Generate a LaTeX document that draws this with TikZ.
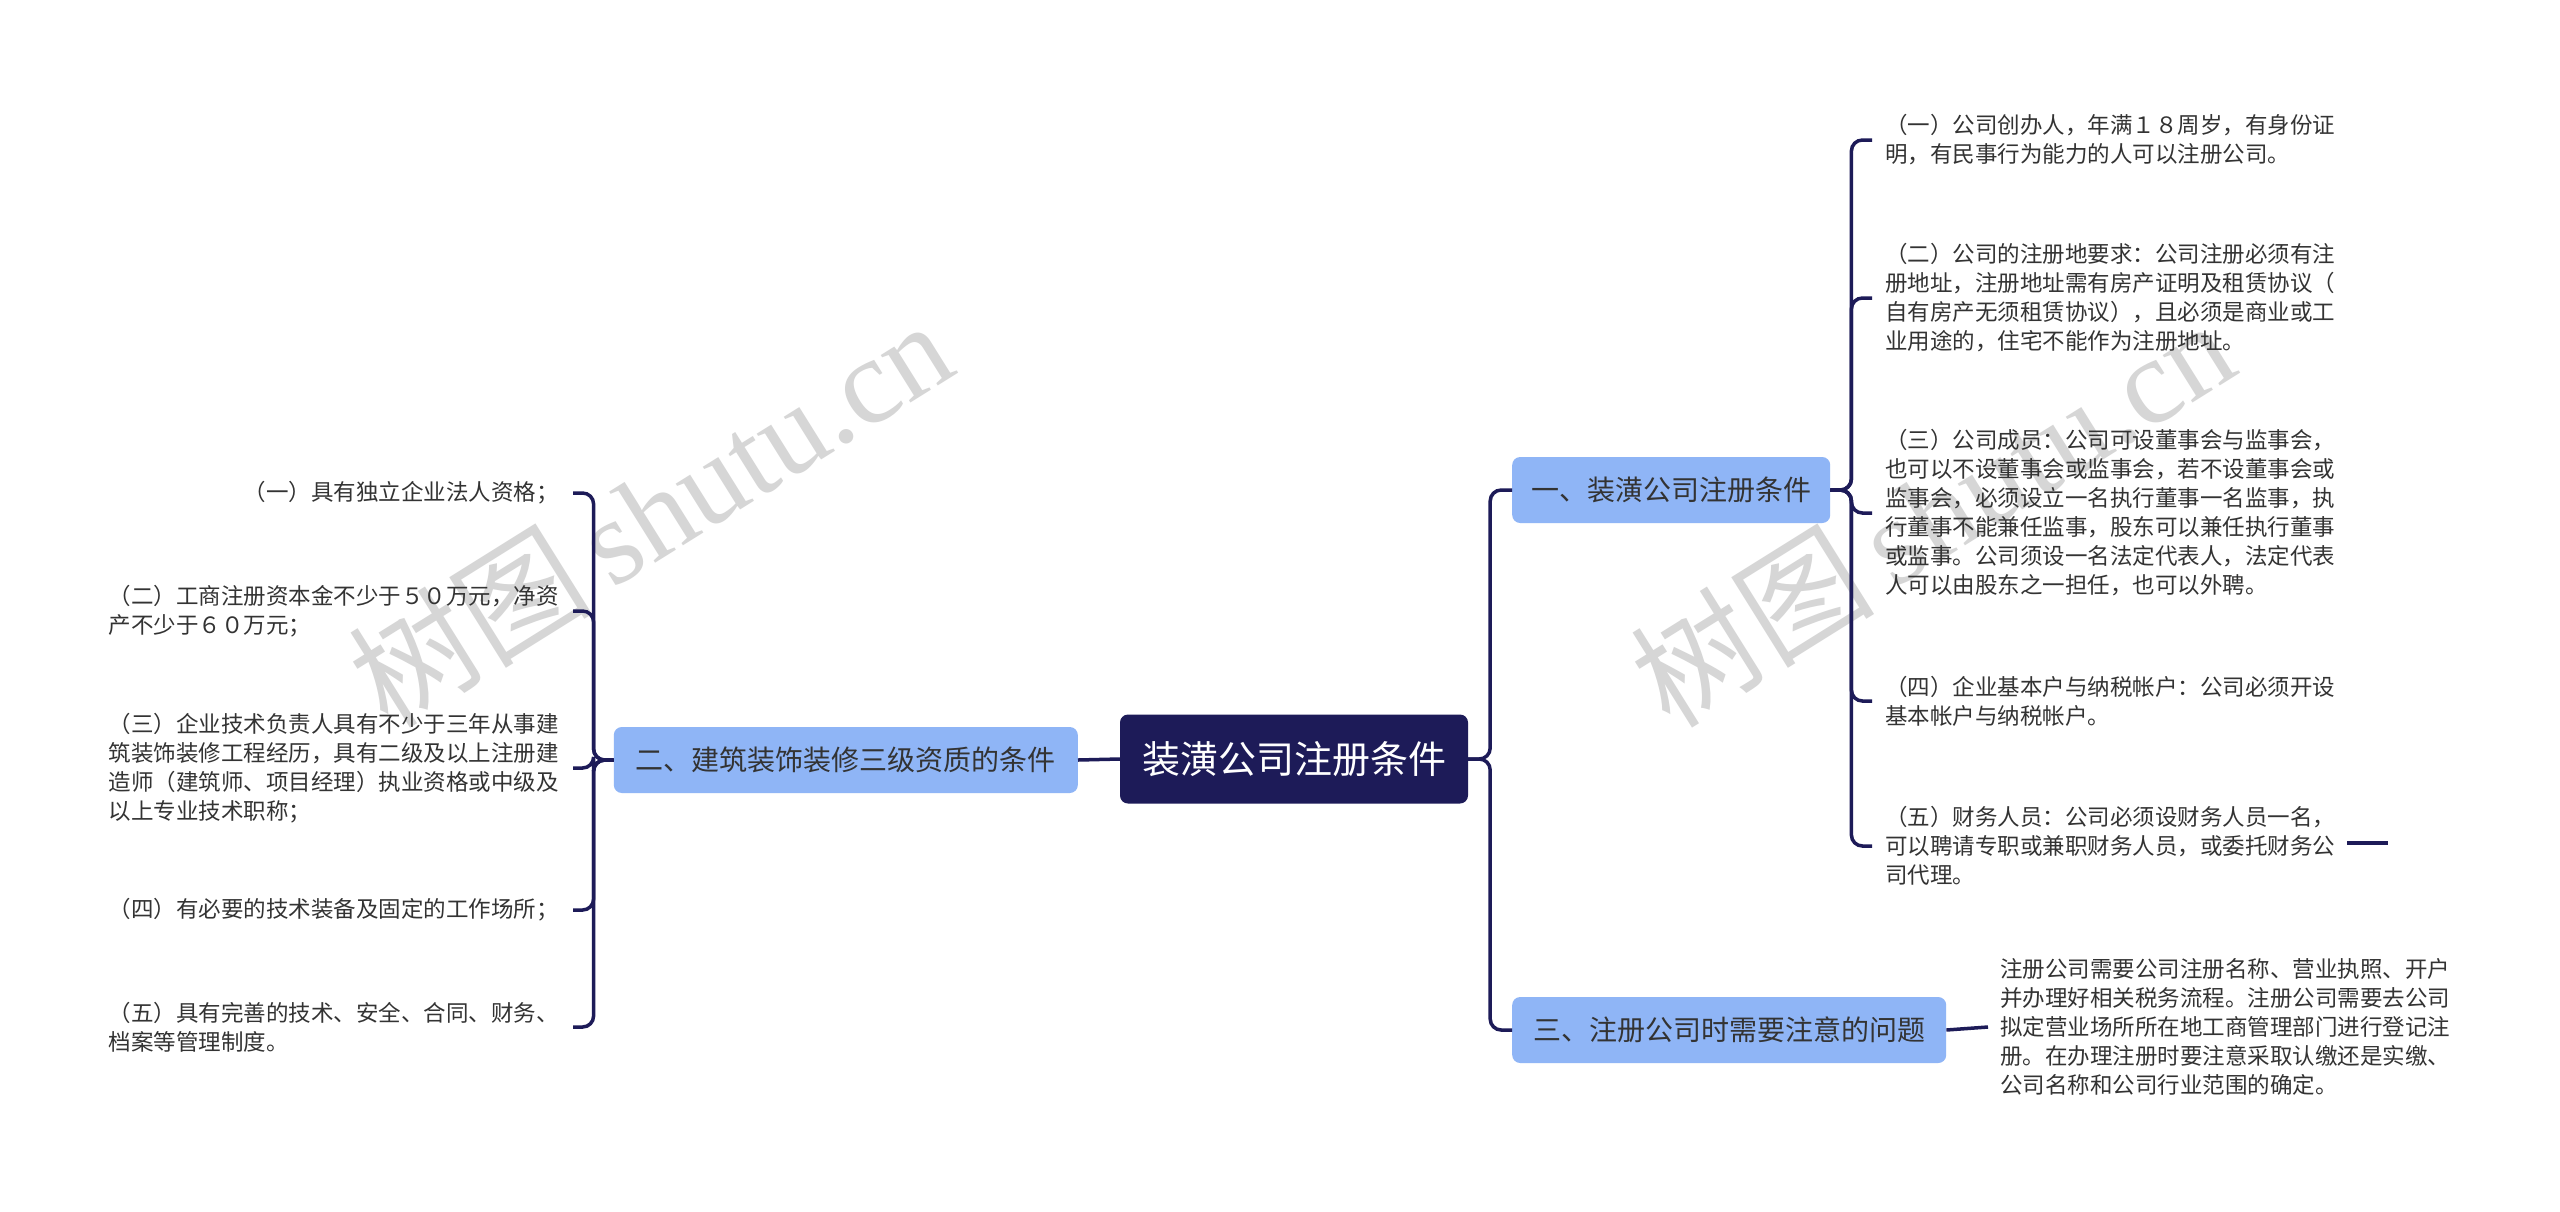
\documentclass[tikz,border=0pt]{standalone}
\usepackage{fontspec}
\setmainfont{Noto Sans CJK SC}
\newfontfamily\wmlatin{Liberation Serif}
\definecolor{navy}{HTML}{1D1B58}
\definecolor{branchblue}{HTML}{8FB5F6}
\definecolor{leaftext}{HTML}{333333}

\begin{document}
\begin{tikzpicture}[x=1pt,y=-1pt,
  link/.style={draw=navy,line width=3.5pt,rounded corners=11pt},
  rootbox/.style={fill=navy,text=white,rounded corners=8pt,minimum width=348pt,minimum height=89pt,font=\fontsize{38}{44}\selectfont},
  branch/.style={fill=branchblue,text=leaftext,rounded corners=8pt,minimum height=66pt,inner xsep=14pt,font=\fontsize{28}{32}\selectfont},
  leaf/.style={text=leaftext,align=left,inner ysep=0pt,font=\fontsize{22.5}{29}\selectfont},
  leafright/.style={leaf,anchor=west,inner xsep=13pt},
  leafleft/.style={leaf,anchor=east,inner xsep=14pt},
  watermark/.style={text=black!16,rotate=32,inner sep=0pt,font=\fontsize{122}{122}\selectfont}]

\fill[white] (0,0) rectangle (2560,1211);

\node[watermark] (wm1) at (650,512) {树图\,{\wmlatin shutu.cn}};
\node[watermark] (wm2) at (1932,512) {树图\,{\wmlatin shutu.cn}};

\node[rootbox] (root) at (1294,759) {装潢公司注册条件};
\node[branch,anchor=east,minimum width=464pt] (cond) at (1078,760) {二、建筑装饰装修三级资质的条件};
\node[branch,anchor=west,minimum width=318pt] (reg) at (1512,490) {一、装潢公司注册条件};
\node[branch,anchor=west,minimum width=434pt] (note) at (1512,1030) {三、注册公司时需要注意的问题};

\node[leafright] (reg1) at (1872,140) {（一）公司创办人，年满１８周岁，有身份证\\明，有民事行为能力的人可以注册公司。};
\node[leafright] (reg2) at (1872,298) {（二）公司的注册地要求：公司注册必须有注\\册地址，注册地址需有房产证明及租赁协议（\\自有房产无须租赁协议），且必须是商业或工\\业用途的，住宅不能作为注册地址。};
\node[leafright] (reg3) at (1872,513) {（三）公司成员：公司可设董事会与监事会，\\也可以不设董事会或监事会，若不设董事会或\\监事会，必须设立一名执行董事一名监事，执\\行董事不能兼任监事，股东可以兼任执行董事\\或监事。公司须设一名法定代表人，法定代表\\人可以由股东之一担任，也可以外聘。};
\node[leafright] (reg4) at (1872,701) {（四）企业基本户与纳税帐户：公司必须开设\\基本帐户与纳税帐户。};
\node[leafright] (reg5) at (1872,846) {（五）财务人员：公司必须设财务人员一名，\\可以聘请专职或兼职财务人员，或委托财务公\\司代理。};

\node[leafleft] (cond1) at (573,493) {（一）具有独立企业法人资格；};
\node[leafleft] (cond2) at (573,611) {（二）工商注册资本金不少于５０万元，净资\\产不少于６０万元；};
\node[leafleft] (cond3) at (573,768) {（三）企业技术负责人具有不少于三年从事建\\筑装饰装修工程经历，具有二级及以上注册建\\造师（建筑师、项目经理）执业资格或中级及\\以上专业技术职称；};
\node[leafleft] (cond4) at (573,910) {（四）有必要的技术装备及固定的工作场所；};
\node[leafleft] (cond5) at (573,1027) {（五）具有完善的技术、安全、合同、财务、\\档案等管理制度。};

\node[leafright,inner xsep=12pt] (note1) at (1988,1027) {注册公司需要公司注册名称、营业执照、开户\\并办理好相关税务流程。注册公司需要去公司\\拟定营业场所所在地工商管理部门进行登记注\\册。在办理注册时要注意采取认缴还是实缴、\\公司名称和公司行业范围的确定。};

\draw[link] (root.west) -- (cond.east);
\draw[link] (root.east) -- ++(22,0) |- (reg.west);
\draw[link] (root.east) -- ++(22,0) |- (note.west);
\foreach \n in {reg1,reg2,reg3,reg4,reg5}
  \draw[link] (reg.east) -- ++(21,0) |- (\n.west);
\foreach \n in {cond1,cond2,cond3,cond4,cond5}
  \draw[link] (cond.west) -- ++(-20,0) |- (\n.east);
\draw[link] (note.east) -- (note1.west);
\coordinate (tail) at (2347,843);
\draw[link] (tail) -- ++(41,0);

\end{tikzpicture}
\end{document}
